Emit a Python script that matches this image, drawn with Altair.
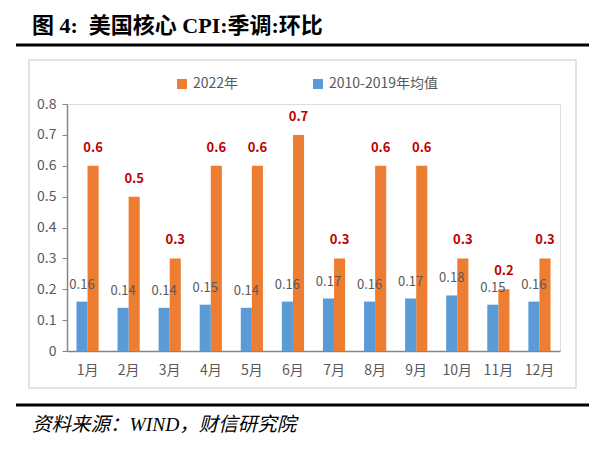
import altair as alt
import pandas as pd

months = ["1月", "2月", "3月", "4月", "5月", "6月", "7月", "8月", "9月", "10月", "11月", "12月"]
series_2022 = [0.6, 0.5, 0.3, 0.6, 0.6, 0.7, 0.3, 0.6, 0.6, 0.3, 0.2, 0.3]
series_avg = [0.16, 0.14, 0.14, 0.15, 0.14, 0.16, 0.17, 0.16, 0.17, 0.18, 0.15, 0.16]
series_names = ["2022年", "2010-2019年均值"]
colors = ["#ED7D31", "#5B9BD5"]
y_ticks = [0, 0.1, 0.2, 0.3, 0.4, 0.5, 0.6, 0.7, 0.8]
title_text = ["图\u00a04:\u00a0\u00a0美国核心\u00a0CPI:季调:环比"]
source_text = ["资料来源：WIND，财信研究院"]

rows = []
for m, a, b in zip(months, series_2022, series_avg):
    rows.append({"month": m, "series": series_names[0], "value": a})
    rows.append({"month": m, "series": series_names[1], "value": b})
df = pd.DataFrame(rows)

FONT = "Noto Sans CJK SC"
GRAY = "#595959"

x_enc = alt.X("month:N", sort=months,
              scale=alt.Scale(paddingInner=0.46, paddingOuter=0.23),
              axis=alt.Axis(title=None, labelAngle=0, ticks=False, domainColor="#868686",
                            domainWidth=1.5, labelFontSize=14, labelColor=GRAY,
                            labelFont=FONT, labelPadding=12))
xoff = alt.XOffset("series:N", scale=alt.Scale(domain=[series_names[1], series_names[0]]))
y_enc = alt.Y("value:Q", scale=alt.Scale(domain=[0, 0.8], nice=False),
              axis=alt.Axis(title=None, values=y_ticks, tickCount=20,
                            format=".1~f", grid=False, tickSize=5, tickColor="#868686",
                            domainColor="#868686", domainWidth=1.5, labelFontSize=14,
                            labelColor=GRAY, labelFont=FONT, labelPadding=6,
                            labelOverlap=False))

bars = alt.Chart(df).mark_bar().encode(
    x=x_enc, xOffset=xoff, y=y_enc,
    color=alt.Color("series:N", scale=alt.Scale(domain=series_names, range=colors),
                    legend=alt.Legend(title=None, orient="none", legendX=108, legendY=-27,
                                      direction="horizontal", symbolType="square",
                                      symbolSize=100, labelFontSize=14, labelColor=GRAY,
                                      labelFont=FONT, columnPadding=72, symbolStrokeWidth=0)),
)

lab_2022 = alt.Chart(df).transform_filter(alt.datum.series == series_names[0]).mark_text(
    dy=-18, fontSize=13, fontWeight="bold", color="#C00000", font=FONT
).encode(x=x_enc, xOffset=xoff, y=y_enc,
         text=alt.Text("value:Q", format=".2~f"))

lab_avg = alt.Chart(df).transform_filter(alt.datum.series == series_names[1]).mark_text(
    dy=-17, fontSize=13, color=GRAY, font=FONT
).encode(x=x_enc, xOffset=xoff, y=y_enc,
         text=alt.Text("value:Q", format=".2~f"))

box = alt.Chart(pd.DataFrame({"k": [0]})).mark_rect(
    fill=None, stroke="#D9D9D9", strokeWidth=1.5
).encode(x=alt.value(-38), x2=alt.value(509), y=alt.value(-44), y2=alt.value(284))

top_line = alt.Chart(pd.DataFrame({"k": [0]})).mark_rule(color="black", strokeWidth=3).encode(
    x=alt.value(-51), x2=alt.value(522), y=alt.value(-59))
bottom_line = alt.Chart(pd.DataFrame({"k": [0]})).mark_rule(color="black", strokeWidth=3).encode(
    x=alt.value(-51), x2=alt.value(522), y=alt.value(301))

title = alt.Chart(pd.DataFrame({"t": title_text})).mark_text(
    align="left", baseline="middle", fontSize=22, fontWeight="bold", color="black",
    font="Liberation Serif, Noto Sans CJK SC"
).encode(x=alt.value(-35), y=alt.value(-78), text="t:N")

source = alt.Chart(pd.DataFrame({"t": source_text})).mark_text(
    align="left", baseline="middle", fontSize=19.5, fontStyle="italic", color="black",
    font="Liberation Serif, Noto Sans CJK SC"
).encode(x=alt.value(-35), y=alt.value(321), text="t:N")

chart = alt.layer(bars, lab_2022, lab_avg, box, top_line, bottom_line, title, source).properties(
    width=493, height=247,
    autosize=alt.AutoSizeParams(type="none"),
    padding={"left": 59, "top": 96, "right": 44, "bottom": 93},
).configure_view(stroke=None).configure(background="white")

chart.save("out.html", embed_options={"renderer": "svg", "actions": False})
